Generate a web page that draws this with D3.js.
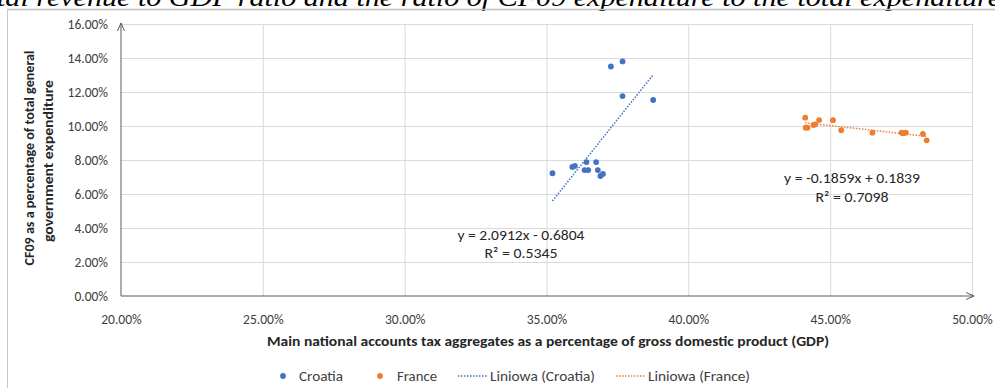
<!DOCTYPE html>
<html><head><meta charset="utf-8">
<script src="https://cdn.jsdelivr.net/npm/d3@7"></script>
<style>
html,body{margin:0;padding:0;background:#fff;}
svg{display:block;}
text{font-family:Carlito,Lato,"Open Sans",sans-serif;}
</style></head>
<body>
<svg id="c" width="995" height="388"></svg>
<script>
// ---- data ----
const seriesNames = ["Croatia", "France"];
const croatiaX = [35.21, 35.91, 36.00, 36.41, 36.34, 36.47, 36.75, 36.81, 36.90, 36.99, 37.27, 37.68, 37.68, 38.76];
const croatiaY = [7.22, 7.59, 7.65, 7.88, 7.41, 7.41, 7.88, 7.41, 7.06, 7.18, 13.50, 13.80, 11.76, 11.53];
const franceX = [44.12, 44.14, 44.20, 44.41, 44.47, 44.61, 45.10, 45.39, 46.49, 47.52, 47.58, 47.67, 48.27, 48.40];
const franceY = [10.49, 9.90, 9.90, 10.06, 10.10, 10.35, 10.34, 9.75, 9.61, 9.61, 9.57, 9.61, 9.53, 9.16];
const trendSlope = [2.0912, -0.1859];
const trendIntercept = [-0.6804, 0.1839];
const trendR2 = ["0.5345", "0.7098"];
const xTicks = [0.20, 0.25, 0.30, 0.35, 0.40, 0.45, 0.50];
const yTicks = [0, 0.02, 0.04, 0.06, 0.08, 0.10, 0.12, 0.14, 0.16];
const legendLabels = ["Croatia", "France", "Liniowa (Croatia)", "Liniowa (France)"];
const titleText = "tal revenue to GDP ratio and the ratio of CF09 expenditure to the total expenditure";
const xTitle = "Main national accounts tax aggregates as a percentage of gross domestic product (GDP)";
const yTitle1 = "CF09 as a percentage of total general";
const yTitle2 = "government expenditure";

const colors = ["#4472C4", "#ED7D31"];
const svg = d3.select("#c");

function fit(sel, w){
  const n = sel.node();
  const L = n.getComputedTextLength();
  if (L > 0) sel.attr("textLength", w).attr("lengthAdjust", "spacingAndGlyphs");
  return sel;
}

// document title (cut off at the top, as in the reference)
fit(svg.append("text").attr("x", -3).attr("y", 6)
  .style("font-family", "'Liberation Serif','Times New Roman',serif")
  .style("font-style", "italic").style("font-size", "25px").attr("fill", "#000")
  .text(titleText), 1004);

// chart frame
svg.append("line").attr("x1", 7).attr("x2", 995).attr("y1", 9.5).attr("y2", 9.5)
  .attr("stroke", "#bfbfbf").attr("stroke-width", 1.5);
svg.append("line").attr("x1", 7.5).attr("x2", 7.5).attr("y1", 9).attr("y2", 388)
  .attr("stroke", "#c8c8c8").attr("stroke-width", 1);

const x = d3.scaleLinear().domain([0.20, 0.50]).range([121, 972]);
const y = d3.scaleLinear().domain([0, 0.16]).range([296, 24]);

// gridlines
const gx = svg.append("g").attr("transform", "translate(0,296)")
  .call(d3.axisBottom(x).tickValues(xTicks.slice(1)).tickSize(-272).tickFormat(""));
gx.select(".domain").remove();
gx.selectAll("line").attr("stroke", "#d9d9d9");
const gy = svg.append("g").attr("transform", "translate(121,0)")
  .call(d3.axisLeft(y).tickValues(yTicks.slice(1)).tickSize(-851).tickFormat(""));
gy.select(".domain").remove();
gy.selectAll("line").attr("stroke", "#d9d9d9");

// tick labels
const fmt = d3.format(".2%");
const ax = svg.append("g").attr("transform", "translate(0,296)")
  .call(d3.axisBottom(x).tickValues(xTicks).tickSize(0).tickPadding(18).tickFormat(fmt));
ax.select(".domain").remove();
ax.selectAll("text").attr("fill", "#404040").style("font-size", "13.5px")
  .style("font-family", "Carlito,Lato,sans-serif");
const ay = svg.append("g").attr("transform", "translate(108,0)")
  .call(d3.axisLeft(y).tickValues(yTicks).tickSize(0).tickPadding(0).tickFormat(fmt));
ay.select(".domain").remove();
ay.selectAll("text").attr("fill", "#404040").style("font-size", "13.5px")
  .style("font-family", "Carlito,Lato,sans-serif");

// axis lines with open arrows
const axc = "#595959";
svg.append("line").attr("x1", x(0.20)).attr("x2", x(0.20)).attr("y1", y(0)).attr("y2", y(0.16) - 1)
  .attr("stroke", axc);
svg.append("path").attr("d", `M${x(0.20)-3.5},${y(0.16)+7}L${x(0.20)},${y(0.16)-1}L${x(0.20)+3.5},${y(0.16)+7}`)
  .attr("fill", "none").attr("stroke", axc);
svg.append("line").attr("x1", x(0.20)).attr("x2", x(0.50) + 2).attr("y1", y(0)).attr("y2", y(0))
  .attr("stroke", axc);
svg.append("path").attr("d", `M${x(0.50)-6},${y(0)-3.5}L${x(0.50)+2},${y(0)}L${x(0.50)-6},${y(0)+3.5}`)
  .attr("fill", "none").attr("stroke", axc);

// trendlines
const xs = [croatiaX, franceX], ys = [croatiaY, franceY];
xs.forEach((arr, i) => {
  const x0 = d3.min(arr) / 100, x1 = d3.max(arr) / 100;
  const f = v => trendSlope[i] * v + trendIntercept[i];
  svg.append("line").attr("x1", x(x0)).attr("y1", y(f(x0))).attr("x2", x(x1)).attr("y2", y(f(x1)))
    .attr("stroke", colors[i]).attr("stroke-width", 1.5).attr("stroke-dasharray", "1.5,1.5");
});

// points
xs.forEach((arr, i) => {
  svg.append("g").selectAll("circle").data(arr.map((v, j) => [v / 100, ys[i][j] / 100]))
    .join("circle").attr("cx", d => x(d[0])).attr("cy", d => y(d[1])).attr("r", 2.9)
    .attr("fill", colors[i]);
});

// trendline labels
const eqs = [
  {t1: `y = ${trendSlope[0]}x - ${Math.abs(trendIntercept[0])}`, t2: `R² = ${trendR2[0]}`, cx: 521, y1: 240, y2: 258, w1: 127, w2: 73},
  {t1: `y = ${trendSlope[1]}x + ${trendIntercept[1]}`, t2: `R² = ${trendR2[1]}`, cx: 852, y1: 183, y2: 202, w1: 136, w2: 73}
];
eqs.forEach(e => {
  fit(svg.append("text").attr("x", e.cx).attr("y", e.y1).attr("text-anchor", "middle")
    .attr("fill", "#262626").style("font-size", "14px").text(e.t1), e.w1);
  fit(svg.append("text").attr("x", e.cx).attr("y", e.y2).attr("text-anchor", "middle")
    .attr("fill", "#262626").style("font-size", "14px").text(e.t2), e.w2);
});

// axis titles
fit(svg.append("text").attr("x", 548).attr("y", 346).attr("text-anchor", "middle")
  .attr("fill", "#262626").style("font-size", "13.5px").style("font-weight", "bold").text(xTitle), 562);
const yt = svg.append("g");
fit(yt.append("text").attr("transform", "translate(34,158) rotate(-90)").attr("text-anchor", "middle")
  .attr("fill", "#262626").style("font-size", "13.5px").style("font-weight", "bold").text(yTitle1), 215);
fit(yt.append("text").attr("transform", "translate(53,161) rotate(-90)").attr("text-anchor", "middle")
  .attr("fill", "#262626").style("font-size", "13.5px").style("font-weight", "bold").text(yTitle2), 162);

// legend
const lg = svg.append("g");
const ly = 376;
lg.append("circle").attr("cx", 283).attr("cy", ly).attr("r", 2.9).attr("fill", colors[0]);
fit(lg.append("text").attr("x", 299).attr("y", ly + 4.5).attr("fill", "#404040").style("font-size", "13.5px").text(legendLabels[0]), 44);
lg.append("circle").attr("cx", 380).attr("cy", ly).attr("r", 2.9).attr("fill", colors[1]);
fit(lg.append("text").attr("x", 397).attr("y", ly + 4.5).attr("fill", "#404040").style("font-size", "13.5px").text(legendLabels[1]), 40);
lg.append("line").attr("x1", 458).attr("x2", 487).attr("y1", ly).attr("y2", ly)
  .attr("stroke", colors[0]).attr("stroke-width", 1.5).attr("stroke-dasharray", "1.5,1.5");
fit(lg.append("text").attr("x", 490).attr("y", ly + 4.5).attr("fill", "#404040").style("font-size", "13.5px").text(legendLabels[2]), 105);
lg.append("line").attr("x1", 616).attr("x2", 645).attr("y1", ly).attr("y2", ly)
  .attr("stroke", colors[1]).attr("stroke-width", 1.5).attr("stroke-dasharray", "1.5,1.5");
fit(lg.append("text").attr("x", 648).attr("y", ly + 4.5).attr("fill", "#404040").style("font-size", "13.5px").text(legendLabels[3]), 102);
</script>
</body></html>
